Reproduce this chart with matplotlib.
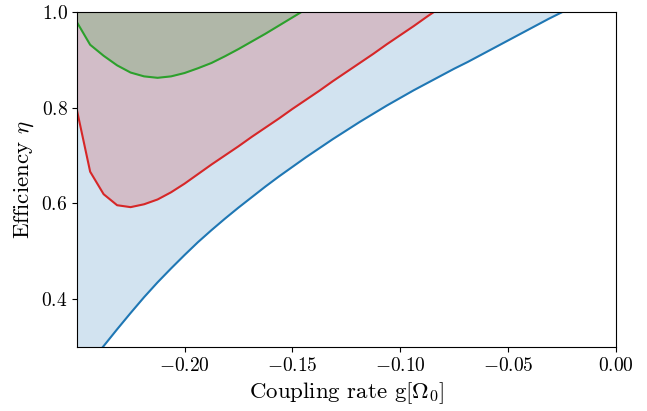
import numpy as np
import matplotlib
matplotlib.use("Agg")
import matplotlib.pyplot as plt

plt.rcParams['font.family'] = 'serif'
plt.rcParams['font.serif'] = ['cmr10']
plt.rcParams['mathtext.fontset'] = 'cm'
plt.rcParams['axes.formatter.use_mathtext'] = True

# coupling rate grid (step 0.00625 from -0.25)
g = np.arange(41) * 0.00625 - 0.25

eta_blue = [0.235, 0.268, 0.302, 0.337, 0.371, 0.404, 0.435, 0.464, 0.492, 0.519,
            0.544, 0.568, 0.591, 0.613, 0.635, 0.656, 0.676, 0.696, 0.715, 0.734,
            0.752, 0.770, 0.787, 0.804, 0.820, 0.836, 0.851, 0.866, 0.881, 0.895,
            0.910, 0.925, 0.940, 0.955, 0.970, 0.985, 0.999, 1.014]
eta_red = [0.797, 0.666, 0.619, 0.596, 0.592, 0.598, 0.608, 0.623, 0.641, 0.661,
           0.681, 0.700, 0.719, 0.739, 0.758, 0.777, 0.797, 0.816, 0.835, 0.855,
           0.874, 0.893, 0.912, 0.932, 0.951, 0.970, 0.990, 1.009]
eta_green = [0.979, 0.931, 0.908, 0.888, 0.873, 0.865, 0.862, 0.865, 0.872, 0.882,
             0.893, 0.907, 0.922, 0.938, 0.954, 0.971, 0.988, 1.005]

series = [(eta_blue, 'tab:blue'), (eta_red, 'tab:red'), (eta_green, 'tab:green')]

fig = plt.figure(figsize=(6.47, 4.11), dpi=100)
ax = fig.add_axes([0.1195, 0.1557, 0.8325, 0.8158])

for vals, col in series:
    xs = g[:len(vals)]
    ys = np.array(vals)
    ax.fill_between(xs, ys, 1.0, color=col, alpha=0.2, linewidth=0)
    ax.plot(xs, ys, color=col, linewidth=1.5)

ax.set_xlim(-0.2497, 0.0)
ax.set_ylim(0.3, 1.0)
ax.set_xticks([-0.20, -0.15, -0.10, -0.05, 0.00])
ax.set_yticks([0.4, 0.6, 0.8, 1.0])
ax.tick_params(labelsize=14)
ax.set_xlabel(r'Coupling rate g[$\Omega_0$]', fontsize=16.5)
ax.set_ylabel(r'Efficiency $\eta$', fontsize=16.5)

fig.savefig('out.png', dpi=100)
